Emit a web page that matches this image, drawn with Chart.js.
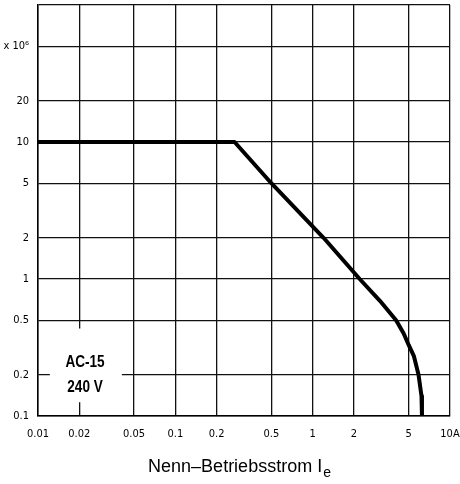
<!DOCTYPE html>
<html><head><meta charset="utf-8">
<script src="https://cdn.jsdelivr.net/npm/chart.js@4.4.0/dist/chart.umd.min.js"></script>
<style>html,body{margin:0;padding:0;background:#fff}#wrap{width:460px;height:484px}</style>
</head><body><div id="wrap"><canvas id="c" width="460" height="484"></canvas></div>
<script>
const currentA = [0.01, 0.27, 0.5, 1.2, 2.2, 3.1, 4.05, 4.6, 5.0, 5.45, 5.9, 6.2, 6.25];
const cyclesMillions = [10, 10, 5, 2, 1, 0.69, 0.5, 0.4, 0.33, 0.275, 0.2, 0.14, 0.1];
const xTicks = [0.01, 0.02, 0.05, 0.1, 0.2, 0.5, 1, 2, 5, 10];
const xTickLabels = ['0.01', '0.02', '0.05', '0.1', '0.2', '0.5', '1', '2', '5', '10A'];
const yTicks = [0.1, 0.2, 0.5, 1, 2, 5, 10, 20, 50, 100];
const yTickLabels = ['0.1', '0.2', '0.5', '1', '2', '5', '10', '20', 'x 10⁶', ''];
const xTitle = 'Nenn–Betriebsstrom I';
const xTitleSub = 'e';
const labelLines = ['AC-15', '240 V'];

const narrow = '"Liberation Sans Narrow", "DejaVu Sans Condensed", "Liberation Sans", Arial, sans-serif';

const labelPlugin = {
  id: 'labels',
  beforeDatasetsDraw(chart) {
    const ctx = chart.ctx, xs = chart.scales.x, ys = chart.scales.y;
    ctx.save();
    const l = xs.getPixelForValue(0.0122), r = xs.getPixelForValue(0.0408);
    const t = ys.getPixelForValue(0.435), b = ys.getPixelForValue(0.126);
    ctx.fillStyle = '#fff';
    ctx.fillRect(l, t, r - l, b - t);
    ctx.fillStyle = '#000';
    ctx.font = 'bold 17px "Liberation Sans", Arial, sans-serif';
    ctx.textAlign = 'center';
    ctx.textBaseline = 'middle';
    const cx = xs.getPixelForValue(0.022);
    [[labelLines[0], 0.248], [labelLines[1], 0.162]].forEach(([txt, v]) => {
      ctx.save();
      ctx.translate(cx, ys.getPixelForValue(v));
      ctx.scale(0.8, 1);
      ctx.fillText(txt, 0, 0);
      ctx.restore();
    });
    ctx.restore();
  },
  afterDraw(chart) {
    const ctx = chart.ctx;
    ctx.save();
    ctx.fillStyle = '#000';
    ctx.textBaseline = 'alphabetic';
    ctx.font = '18px "Liberation Sans", Arial, sans-serif';
    const w1 = ctx.measureText(xTitle).width;
    ctx.font = '14px "Liberation Sans", Arial, sans-serif';
    const w2 = ctx.measureText(xTitleSub).width;
    const cx = 239;
    const x0 = cx - (w1 + w2) / 2;
    const y0 = 472;
    ctx.font = '18px "Liberation Sans", Arial, sans-serif';
    ctx.fillText(xTitle, x0, y0);
    ctx.font = '14px "Liberation Sans", Arial, sans-serif';
    ctx.fillText(xTitleSub, x0 + w1 + 1, y0 + 5);
    ctx.restore();
  }
};

new Chart(document.getElementById('c'), {
  type: 'line',
  data: {
    datasets: [{
      data: currentA.map((x, i) => ({ x: x, y: cyclesMillions[i] })),
      borderColor: '#000',
      borderWidth: 4,
      pointRadius: 0,
      tension: 0,
      borderJoinStyle: 'round',
      borderCapStyle: 'butt',
      fill: false
    }]
  },
  options: {
    responsive: false,
    animation: false,
    devicePixelRatio: 1,
    layout: { padding: 0 },
    plugins: { legend: { display: false }, tooltip: { enabled: false } },
    scales: {
      x: {
        type: 'logarithmic',
        min: 0.01, max: 10,
        afterBuildTicks(s) { s.ticks = xTicks.map(v => ({ value: v })); },
        afterFit(s) { s.height = 68; s.paddingLeft = 0; s.paddingRight = 10; },
        ticks: {
          autoSkip: false, maxRotation: 0, padding: 12, color: '#000',
          font: { family: narrow, size: 11 },
          callback(v) { const i = xTicks.indexOf(v); return i >= 0 ? xTickLabels[i] : ''; }
        },
        grid: { color: '#111', lineWidth: 1.3, drawTicks: false },
        border: { color: '#000', width: 1.5 }
      },
      y: {
        type: 'logarithmic',
        min: 0.1, max: 100,
        afterBuildTicks(s) { s.ticks = yTicks.map(v => ({ value: v })); },
        afterFit(s) { s.width = 38; s.paddingTop = 5; s.paddingBottom = 0; },
        ticks: {
          autoSkip: false, padding: 9, color: '#000',
          font: { family: narrow, size: 11 },
          callback(v) { const i = yTicks.indexOf(v); return i >= 0 ? yTickLabels[i] : ''; }
        },
        grid: { color: '#111', lineWidth: 1.3, drawTicks: false },
        border: { color: '#000', width: 1.5 }
      }
    }
  },
  plugins: [labelPlugin]
});
</script>
</body></html>
